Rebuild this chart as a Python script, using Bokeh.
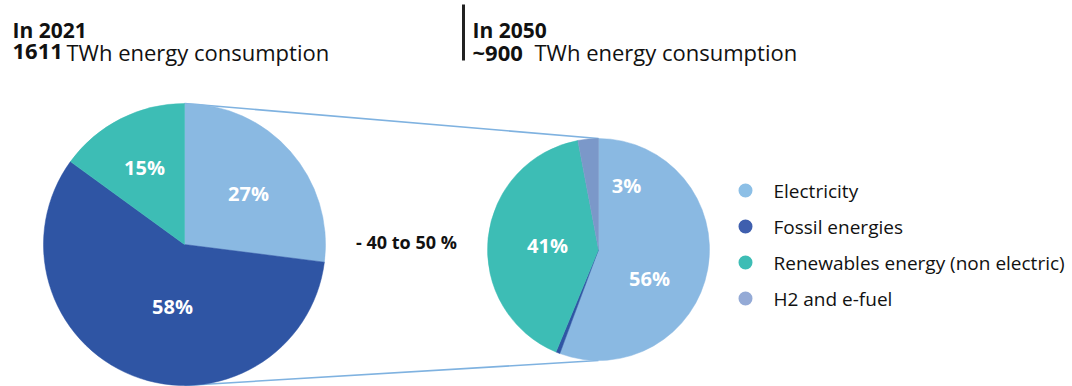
import math
from bokeh.plotting import figure
from bokeh.models import Range1d
from bokeh.core.properties import value
from bokeh.embed import file_html
from bokeh.resources import INLINE

# ---------------- data ----------------
categories = ["Electricity", "Fossil energies", "Renewables energy (non electric)", "H2 and e-fuel"]
colors = ["#8ab9e2", "#2f55a4", "#3dbdb5", "#7b98c9"]
legend_colors = ["#8cbfe6", "#3f5fae", "#3dbdb5", "#94aad6"]
share_2021 = [27, 58, 15, 0]
share_2050 = [56, 0.6, 41, 3]
labels_2021 = ["27%", "58%", "15%", ""]
labels_2050 = ["56%", "", "41%", "3%"]
title_2021 = ("In 2021", "1611", "TWh energy consumption")
title_2050 = ("In 2050", "~900", "TWh energy consumption")
reduction_text = "- 40 to 50 %"

# ---------------- layout (reference pixel coordinates) ----------------
W, H = 1072, 386
FONT = "Open Sans"

def Y(yref):
    return H - yref

p = figure(width=W, height=H, output_backend="svg", toolbar_location=None,
           x_range=Range1d(0, W), y_range=Range1d(0, H),
           min_border=0, outline_line_color=None)
p.axis.visible = False
p.grid.visible = False
p.background_fill_color = "white"
p.border_fill_color = "white"

pies = [
    dict(cx=184, cy=244, r=141, shares=share_2021, labels=labels_2021,
         label_pos=[(248, 193), (172, 306), (144, 167), None]),
    dict(cx=598, cy=249, r=111, shares=share_2050, labels=labels_2050,
         label_pos=[(649, 278), None, (547, 245), (626, 185)]),
]

# connector lines
a, b = pies
p.segment(x0=[a["cx"], a["cx"]], y0=[Y(a["cy"] - a["r"]), Y(a["cy"] + a["r"])],
          x1=[b["cx"], b["cx"]], y1=[Y(b["cy"] - b["r"]), Y(b["cy"] + b["r"])],
          line_color="#7fb2e0", line_width=1.6)

for pie in pies:
    total = sum(pie["shares"])
    cum = 0.0
    for i, v in enumerate(pie["shares"]):
        if v <= 0:
            continue
        t1 = cum / total * 2 * math.pi
        cum += v
        t2 = cum / total * 2 * math.pi
        p.wedge(x=[pie["cx"]], y=[Y(pie["cy"])], radius=pie["r"],
                start_angle=[math.pi / 2 - t2], end_angle=[math.pi / 2 - t1],
                fill_color=colors[i], line_color=colors[i], line_width=0.5)
    for lab, pos in zip(pie["labels"], pie["label_pos"]):
        if lab and pos:
            p.text(x=[pos[0]], y=[Y(pos[1])], text=[lab], text_color="white",
                   text_font=value(FONT), text_font_style="bold", text_font_size="20px",
                   text_align="center", text_baseline="middle")

# titles
for (t, num, rest), x0, x1 in [(title_2021, 12, 66), (title_2050, 472, 534)]:
    p.text(x=[x0], y=[Y(29)], text=[t], text_font=value(FONT), text_font_style="bold",
           text_font_size="21px", text_color="#111111", text_baseline="alphabetic")
    p.text(x=[x0], y=[Y(51)], text=[num], text_font=value(FONT), text_font_style="bold",
           text_font_size="22px", text_color="#111111", text_baseline="alphabetic")
    p.text(x=[x1], y=[Y(51)], text=[rest], text_font=value(FONT),
           text_font_size="22px", text_color="#111111", text_baseline="alphabetic")

p.segment(x0=[463], y0=[Y(4)], x1=[463], y1=[Y(60)], line_color="#222222", line_width=3)

# reduction text
p.text(x=[406], y=[Y(241)], text=[reduction_text], text_font=value(FONT), text_font_style="bold",
       text_font_size="18px", text_color="#111111", text_align="center", text_baseline="middle")

# legend
leg_y = [190, 226, 262, 298]
p.scatter(x=[745] * len(categories), y=[Y(v) for v in leg_y], size=14, marker="circle",
          fill_color=legend_colors, line_color=None)
p.text(x=[773] * len(categories), y=[Y(v) for v in leg_y], text=categories,
       text_font=value(FONT), text_font_size="19px", text_color="#111111",
       text_baseline="middle")

open("out.html", "w").write(file_html(p, INLINE))
